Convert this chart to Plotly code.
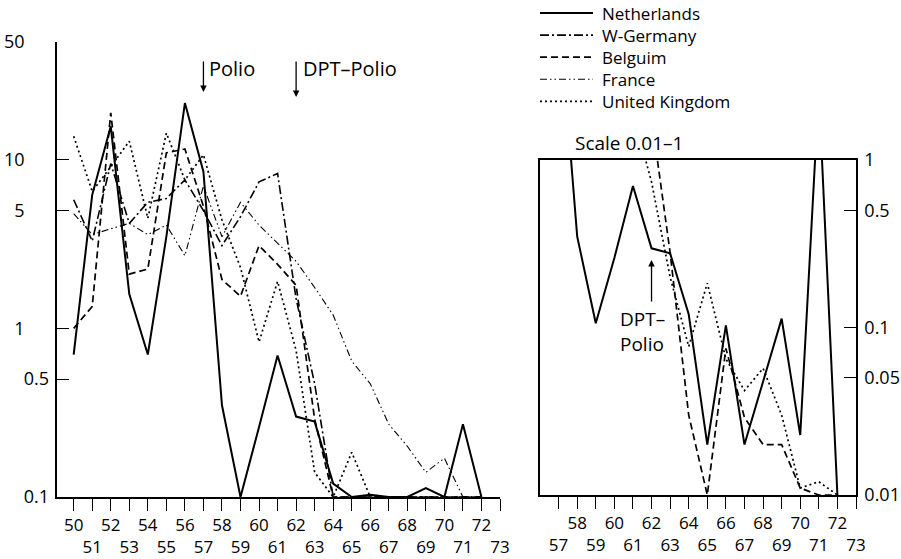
import numpy as np
import plotly.graph_objects as go

# Incidence per year (years 1950-1972, two-digit labels), log scale
years = list(range(50, 73))

netherlands = [0.7, 6.2, 15.8, 1.6, 0.7, 3.5, 21.7, 8.5, 0.35, 0.1, 0.26, 0.69, 0.30, 0.28,
               0.12, 0.02, 0.103, 0.02, 0.047, 0.113, 0.023, 0.27, 0.01]
w_germany = [5.8, 3.3, 9.5, 4.2, 5.6, 5.9, 7.6, 5.0, 3.1, 4.6, 7.4, 8.3, 1.5, 0.47,
             0.1, 0.1, 0.1, 0.1, 0.1, 0.1, 0.1, 0.1, 0.1]
belgium = [1.0, 1.35, 19.0, 2.1, 2.25, 11.0, 11.6, 5.3, 1.95, 1.55, 3.1, 2.4, 1.8, 0.29,
           0.03, 0.01, 0.075, 0.029, 0.02, 0.02, 0.011, 0.01, 0.01]
france = [4.8, 3.6, 3.9, 4.2, 3.6, 4.1, 2.7, 7.0, 3.5, 5.6, 4.1, 3.2, 2.5, 1.75,
          1.2, 0.64, 0.47, 0.27, 0.2, 0.14, 0.17, 0.1, 0.1]
united_kingdom = [13.8, 6.5, 9.1, 12.9, 4.5, 14.4, 7.6, 10.7, 4.4, 2.3, 0.83, 1.9, 0.74, 0.14,
                  0.077, 0.184, 0.065, 0.042, 0.057, 0.03, 0.011, 0.012, 0.01]

# Detail panel (scale 0.01-1), years 1957-1972
detail_years = list(range(57, 73))
nl_detail = [8.5, 0.35, 0.106, 0.26, 0.70, 0.297, 0.277, 0.12, 0.020, 0.103, 0.020,
             0.047, 0.113, 0.0228, 2.6, 0.01]
be_detail = [None, None, None, None, None, 1.8, 0.28, 0.03, 0.01, 0.075, 0.029,
             0.02, 0.02, 0.011, 0.01, 0.01]
uk_detail = [None, None, None, None, 1.9, 0.74, 0.2, 0.077, 0.184, 0.065, 0.042,
             0.057, 0.03, 0.011, 0.012, 0.01]

FONT = "Open Sans"
W, H = 901, 559

styles = {
    "Netherlands": dict(dash="solid", width=2.0),
    "W-Germany": dict(dash="9px,3px,2px,3px", width=1.6),
    "Belguim": dict(dash="7px,4px", width=1.7),
    "France": dict(dash="7px,3px,1.5px,3px,1.5px,3px", width=1.1),
    "United Kingdom": dict(dash="2px,3px", width=1.7),
}
series = {
    "Netherlands": netherlands,
    "W-Germany": w_germany,
    "Belguim": belgium,
    "France": france,
    "United Kingdom": united_kingdom,
}
detail = {
    "Netherlands": nl_detail,
    "Belguim": be_detail,
    "United Kingdom": uk_detail,
}

fig = go.Figure()
for name, vals in series.items():
    # values below the axis floor are drawn on the baseline
    y = np.maximum(np.array(vals, dtype=float), 0.1)
    fig.add_trace(go.Scatter(x=years, y=y, mode="lines", name=name, showlegend=False,
                             line=dict(color="black", **styles[name]),
                             xaxis="x", yaxis="y"))
for name, vals in detail.items():
    y = np.array([np.nan if v is None else max(v, 0.01) for v in vals], dtype=float)
    fig.add_trace(go.Scatter(x=detail_years, y=y, mode="lines", name=name,
                             showlegend=False,
                             line=dict(color="black", **styles[name]),
                             xaxis="x2", yaxis="y2"))
# placeholder trace so the overlaid yaxis3 is rendered
fig.add_trace(go.Scatter(x=[None], y=[None], xaxis="x", yaxis="y3", showlegend=False))


def two_row(vals):
    return [str(v) if v % 2 == 0 else "<br>" + str(v) for v in vals]


left_ticks = list(range(50, 74))
right_ticks = list(range(57, 74))
x_font = dict(family=FONT, size=17, color="black")
y_font = dict(family=FONT, size=18, color="black")

common_x = dict(showgrid=False, zeroline=False, showline=True, linecolor="black",
                linewidth=1.5, ticks="outside", ticklen=12, tickwidth=1.3,
                tickcolor="black", tickfont=x_font, tickangle=0,
                ticklabelstandoff=0, automargin=False)
common_y = dict(showgrid=False, zeroline=False, linecolor="black", linewidth=1.5,
                ticks="inside", ticklen=12, tickwidth=1.3, tickcolor="black",
                tickfont=y_font, automargin=False)

fig.update_layout(
    width=W, height=H,
    margin=dict(l=0, r=0, t=0, b=0, autoexpand=False),
    paper_bgcolor="white", plot_bgcolor="white",
    font=dict(family=FONT, size=18, color="black"),
    showlegend=False,
    xaxis=dict(domain=[57 / W, 500 / W], range=[49.1, 73], anchor="y",
               tickvals=left_ticks, ticktext=two_row(left_ticks), **common_x),
    yaxis=dict(domain=[1 - 497 / H, 1 - 42 / H], type="log", range=[-1, np.log10(50)],
               anchor="x", showline=True,
               tickvals=[50, 10, 5, 1], ticktext=["50", "10", "5", "1"],
               ticklabelstandoff=27, **common_y),
    yaxis3=dict(overlaying="y", type="log", range=[-1, np.log10(50)], anchor="x",
                side="left", showline=False,
                tickvals=[0.5, 0.1], ticktext=["0.5", "0.1"],
                ticklabelstandoff=7, **common_y),
    xaxis2=dict(domain=[540 / W, 856 / W], range=[56, 73], anchor="y2", mirror=True,
                tickvals=right_ticks, ticktext=two_row(right_ticks), **common_x),
    yaxis2=dict(domain=[1 - 495 / H, 1 - 160 / H], type="log", range=[-2, 0],
                anchor="x2", side="right", mirror=True, showline=True,
                tickvals=[1, 0.5, 0.1, 0.05, 0.01],
                ticktext=["1", "0.5", "0.1", "0.05", "0.01"],
                ticklabelstandoff=3, **common_y),
)


def px_y(p):
    return 1 - p / H


# legend key: one line sample per row, names in a single text block
LEG_FONT = 17
row_h = LEG_FONT * 1.3
first_row = 13
names = list(styles.keys())
for i, name in enumerate(names):
    yy = first_row + i * row_h
    st = styles[name]
    fig.add_shape(type="line", xref="paper", yref="paper",
                  x0=540 / W, x1=593 / W, y0=px_y(yy), y1=px_y(yy),
                  line=dict(color="black", dash=st["dash"], width=st["width"]))
fig.add_annotation(x=601 / W, y=px_y(first_row + 2 * row_h), xref="paper", yref="paper",
                   text="<br>".join(names), showarrow=False, xanchor="left",
                   yanchor="middle", align="left", borderpad=0,
                   font=dict(family=FONT, size=LEG_FONT))

# vaccination arrows
fig.add_annotation(x=57, y=px_y(92), xref="x", yref="paper", text="", showarrow=True,
                   ax=0, ay=-32, arrowhead=2, arrowsize=1, arrowwidth=1.3,
                   arrowcolor="black")
fig.add_annotation(x=57, y=px_y(68), xref="x", yref="paper", text="Polio",
                   showarrow=False, xanchor="left", yanchor="middle", xshift=4,
                   font=dict(family=FONT, size=20))
fig.add_annotation(x=62, y=px_y(97), xref="x", yref="paper", text="", showarrow=True,
                   ax=0, ay=-37, arrowhead=2, arrowsize=1, arrowwidth=1.3,
                   arrowcolor="black")
fig.add_annotation(x=62, y=px_y(68), xref="x", yref="paper", text="DPT\u2013Polio",
                   showarrow=False, xanchor="left", yanchor="middle", xshift=5,
                   font=dict(family=FONT, size=20))

# detail panel annotations
fig.add_annotation(x=62, y=px_y(260), xref="x2", yref="paper", text="", showarrow=True,
                   ax=0, ay=43, arrowhead=2, arrowsize=1, arrowwidth=1.3,
                   arrowcolor="black")
fig.add_annotation(x=60.2, y=px_y(331), xref="x2", yref="paper",
                   text="DPT\u2013<br>Polio", showarrow=False, xanchor="left",
                   yanchor="middle", align="left", font=dict(family=FONT, size=19))
fig.add_annotation(x=573 / W, y=px_y(143), xref="paper", yref="paper",
                   text="Scale 0.01\u20131", showarrow=False, xanchor="left",
                   yanchor="middle", font=dict(family=FONT, size=19))

fig.write_html("out.html")
